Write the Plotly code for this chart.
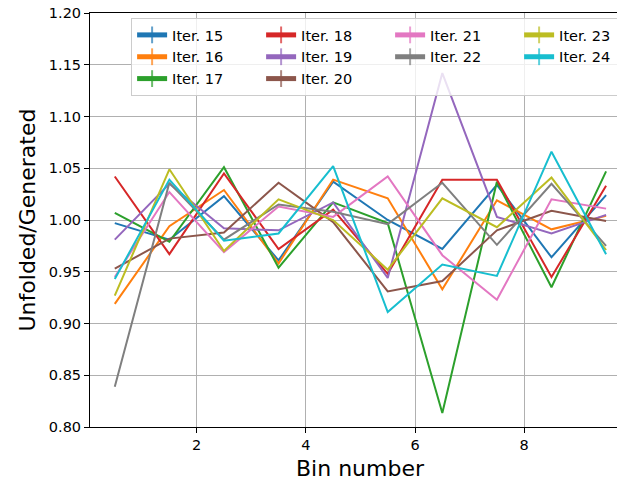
import plotly.graph_objects as go

bins = [0.5, 1.5, 2.5, 3.5, 4.5, 5.5, 6.5, 7.5, 8.5, 9.5]
series_names = ["Iter. 15", "Iter. 16", "Iter. 17", "Iter. 18", "Iter. 19",
                "Iter. 20", "Iter. 21", "Iter. 22", "Iter. 23", "Iter. 24"]
iter15 = [0.997, 0.981, 1.023, 0.961, 1.037, 1.000, 0.972, 1.034, 0.964, 1.024]
iter16 = [0.919, 0.994, 1.029, 0.958, 1.039, 1.021, 0.933, 1.019, 0.991, 1.004]
iter17 = [1.007, 0.979, 1.051, 0.954, 1.017, 0.997, 0.8135, 1.037, 0.935, 1.047]
iter18 = [1.042, 0.967, 1.045, 0.972, 1.010, 0.948, 1.039, 1.039, 0.945, 1.033]
iter19 = [0.981, 1.035, 0.992, 0.990, 1.017, 0.944, 1.142, 1.003, 0.987, 1.005]
iter20 = [0.953, 0.982, 0.988, 1.036, 0.998, 0.931, 0.941, 0.990, 1.009, 0.999]
iter21 = [0.945, 1.027, 0.969, 1.013, 1.003, 1.042, 0.966, 0.923, 1.020, 1.011]
iter22 = [0.839, 1.036, 0.981, 1.015, 1.008, 0.996, 1.036, 0.976, 1.035, 0.975]
iter23 = [0.927, 1.049, 0.970, 1.020, 1.000, 0.952, 1.021, 0.993, 1.041, 0.971]
iter24 = [0.943, 1.039, 0.980, 0.987, 1.052, 0.911, 0.957, 0.946, 1.066, 0.967]
series_values = [iter15, iter16, iter17, iter18, iter19, iter20, iter21, iter22, iter23, iter24]

y_ticks = [0.80, 0.85, 0.90, 0.95, 1.00, 1.05, 1.10, 1.15, 1.20]
x_ticks = [2, 4, 6, 8]

colors = ["#1f77b4", "#ff7f0e", "#2ca02c", "#d62728", "#9467bd",
          "#8c564b", "#e377c2", "#7f7f7f", "#bcbd22", "#17becf"]
# legend filled column-major (3 rows x 4 columns) like matplotlib
legend_rank = [1, 5, 9, 2, 6, 10, 3, 7, 4, 8]

FONT = "DejaVu Sans"
fig = go.Figure()
for name, vals, col, rk in zip(series_names, series_values, colors, legend_rank):
    fig.add_trace(go.Scatter(
        x=bins, y=vals, name=name, mode="lines+markers",
        line=dict(color=col, width=2),
        marker=dict(symbol="line-ns-open", size=[0.001] * len(bins),
                    color=col, line=dict(color=col, width=2)),
        legendrank=rk,
    ))

fig.update_layout(
    width=617, height=480,
    margin=dict(l=90, r=0, t=13, b=53, autoexpand=False),
    paper_bgcolor="white", plot_bgcolor="white",
    font=dict(family=FONT, size=14.5, color="black"),
    showlegend=True,
    legend=dict(
        orientation="h", x=0.078, y=0.988, xanchor="left", yanchor="top",
        bgcolor="rgba(255,255,255,0.8)", bordercolor="#cccccc", borderwidth=1,
        font=dict(family=FONT, size=14.5), entrywidth=84, itemsizing="constant",
        traceorder="normal",
    ),
    xaxis=dict(
        range=[0.046, 9.70], tickvals=x_ticks, ticktext=[str(v) for v in x_ticks],
        showgrid=True, gridcolor="#b0b0b0", gridwidth=1, zeroline=False,
        showline=True, linecolor="black", linewidth=1, mirror=True,
        ticks="outside", ticklen=5, tickcolor="black", automargin=False,
        tickfont=dict(family=FONT, size=14.5), ticklabeloverflow="allow",
    ),
    yaxis=dict(
        range=[0.80, 1.20], tickvals=y_ticks, ticktext=["%.2f" % v for v in y_ticks],
        showgrid=True, gridcolor="#b0b0b0", gridwidth=1, zeroline=False,
        showline=True, linecolor="black", linewidth=1, automargin=False,
        ticks="outside", ticklen=5, tickcolor="black",
        tickfont=dict(family=FONT, size=14.5), ticklabeloverflow="allow",
        title=dict(text="Unfolded/Generated", font=dict(family=FONT, size=22), standoff=7),
    ),
    annotations=[dict(
        text="Bin number", xref="paper", yref="paper", x=0.514, y=0,
        yshift=-41, xanchor="center", yanchor="middle", showarrow=False,
        font=dict(family=FONT, size=22),
    )],
)

# remove the default 8px page margin so the 617x480 figure fills the window
fig.write_html("out.html", config={"displayModeBar": False},
               post_script="document.body.style.margin='0';")
